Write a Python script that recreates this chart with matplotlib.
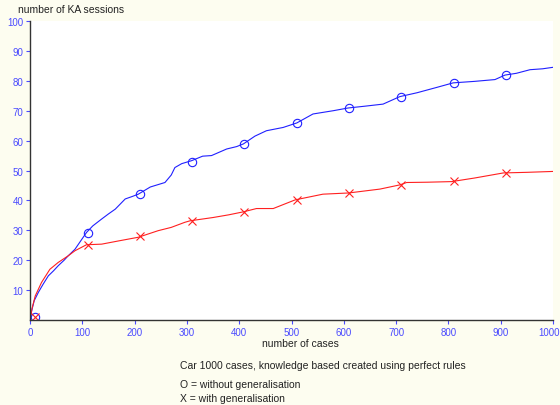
import numpy as np
import matplotlib
matplotlib.use('Agg')
import matplotlib.pyplot as plt
from matplotlib.transforms import ScaledTranslation

plt.rcParams['font.family'] = ['Liberation Sans', 'DejaVu Sans']

# curve without generalisation (blue, O)
blue_x = [0, 3, 8, 16, 25, 35, 45, 54, 65, 73, 86, 95, 108, 120, 137, 150, 163,
          182, 195, 207, 230, 258, 270, 277, 290, 309, 330, 347, 376, 395, 408,
          430, 452, 484, 510, 541, 580, 608, 640, 675, 707, 740, 778, 809, 850,
          889, 908, 930, 956, 980, 1000]
blue_y = [0, 3, 6.5, 9.3, 12, 14.8, 16.5, 18.2, 20, 21.5, 23.7, 26, 29.3, 31.5,
          33.8, 35.5, 37.1, 40.5, 41.3, 42.1, 44.5, 46, 48.5, 51, 52.3, 53.3,
          54.8, 55, 57.2, 58, 58.9, 61.5, 63.3, 64.4, 65.9, 68.9, 70, 70.9, 71.5,
          72.2, 74.7, 76, 77.8, 79.3, 79.8, 80.4, 81.9, 82.5, 83.7, 84, 84.5]

# curve with generalisation (red, X)
red_x = [0, 4, 10, 22, 38, 54, 73, 86, 108, 137, 170, 207, 245, 270, 296, 306,
         350, 380, 408, 433, 465, 507, 560, 609, 669, 707, 720, 760, 806, 850,
         905, 950, 1000]
red_y = [0, 4, 8.1, 12.6, 17, 19.3, 21.5, 23.2, 25.2, 25.4, 26.5, 27.7, 29.9, 31,
         32.7, 33.2, 34.3, 35.2, 36.2, 37.3, 37.3, 40.2, 42.1, 42.5, 43.8, 45.2,
         46, 46.1, 46.3, 47.5, 49.2, 49.4, 49.7]

# marker positions
mark_x = [10, 110, 210, 310, 410, 510, 610, 710, 810, 910]
blue_mark = [1, 29, 42, 53, 59, 65.8, 70.8, 74.7, 79.3, 82]
red_mark = [1, 25, 28, 33, 36, 40, 42.5, 45.2, 46.5, 49.2]

xticks = np.arange(0, 1001, 100)
yticks = np.arange(10, 101, 10)

bg = '#fdfdf0'
tickcol = '#4a4aff'
textcol = '#222222'

fig = plt.figure(figsize=(5.6, 4.06), dpi=100, facecolor=bg)
ax = fig.add_axes([0.0536, 0.209, 0.934, 0.737])
ax.set_facecolor('white')

ax.plot(blue_x, blue_y, color='#2020ff', linewidth=0.8)
ax.plot(red_x, red_y, color='#ff2020', linewidth=0.8)
ax.plot(mark_x, blue_mark, 'o', color='#2020ff', markerfacecolor='none',
        markersize=6, markeredgewidth=0.8)
ax.plot(mark_x, red_mark, 'x', color='#ff2020', markersize=6,
        markeredgewidth=0.8)

ax.set_xlim(0, 1000)
ax.set_ylim(0, 100)
ax.set_xticks(xticks)
ax.set_yticks(yticks)
ax.tick_params(colors=tickcol, labelsize=7, length=3, width=0.8,
               labelcolor=tickcol)
ax.tick_params(axis='y', pad=2)
ax.tick_params(axis='x', pad=2)
for s in ['top', 'right']:
    ax.spines[s].set_visible(False)
for s in ['left', 'bottom']:
    ax.spines[s].set_color('#333333')
    ax.spines[s].set_linewidth(1)

# keep the last x label inside the figure
last = ax.get_xticklabels()[-1]
last.set_transform(last.get_transform() + ScaledTranslation(-4 / 100, 0, fig.dpi_scale_trans))

fig.text(18 / 560, 1 - 10 / 406, 'number of KA sessions', fontsize=7.5,
         color=textcol, va='center', ha='left')
fig.text(300 / 560, 1 - 344 / 406, 'number of cases', fontsize=7.5,
         color=textcol, va='center', ha='center')
fig.text(180 / 560, 1 - 366 / 406,
         'Car 1000 cases, knowledge based created using perfect rules',
         fontsize=7.5, color=textcol, va='center', ha='left')
fig.text(180 / 560, 1 - 385 / 406, 'O = without generalisation',
         fontsize=7.5, color=textcol, va='center', ha='left')
fig.text(180 / 560, 1 - 399 / 406, 'X = with generalisation',
         fontsize=7.5, color=textcol, va='center', ha='left')

fig.savefig('out.png', dpi=100, facecolor=bg)
